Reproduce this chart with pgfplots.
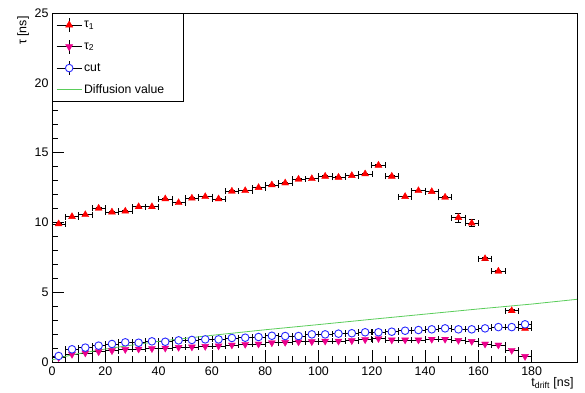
\documentclass[border=0pt]{standalone}
\usepackage{pgfplots}
\pgfplotsset{compat=1.18}
\usepackage{fontspec}
\setmainfont{Liberation Sans}
\definecolor{rootgreen}{RGB}{90,205,90}
\definecolor{rootblue}{RGB}{40,40,255}
\begin{document}
\begin{tikzpicture}
\useasboundingbox (-52bp,-31bp) rectangle (533bp,362bp);
\begin{axis}[
  scale only axis, width=525bp, height=349bp,
  xmin=0, xmax=197, ymin=0, ymax=25,
  xtick={0,20,...,180}, minor x tick num=3,
  ytick={0,5,...,25}, minor y tick num=4,
  tick pos=left, tick align=inside,
  major tick length=12bp, minor tick length=6bp,
  tick style={black, line width=0.5bp},
  axis line style={black, line width=0.6bp},
  /pgf/number format/assume math mode=true,
  ticklabel style={font=\fontsize{12.5}{14}\selectfont},
  xticklabel style={yshift=-1bp},
  xlabel={t\textsubscript{drift} [ns]},
  ylabel={τ [ns]},
  label style={font=\fontsize{12.5}{14}\selectfont},
  xlabel style={at={(axis description cs:1,0)}, anchor=north east, yshift=-12bp},
  ylabel style={at={(axis description cs:-0.055,1)}, anchor=east},
  error bars/error bar style={black, line width=0.6bp},
  error bars/error mark options={black, mark size=3bp, rotate=90, line width=0.6bp},
  legend style={at={(0,1)}, anchor=north west, draw=black, line width=0.6bp,
    font=\fontsize{12.3}{14}\selectfont, row sep=6.9bp, inner xsep=4bp, inner ysep=4.5bp,
    fill=white},
  legend cell align=left,
]
% legend entries
\addlegendimage{legend image code/.code={
  \draw[black, line width=0.6bp] (0bp,0bp)--(25bp,0bp);
  \draw[black, line width=0.6bp] (12.5bp,-7bp)--(12.5bp,7bp);
  \draw[red, fill=red, only marks, mark=triangle*, mark size=4bp] plot coordinates {(12.5bp,0bp)};}}
\addlegendentry{τ\textsubscript{1}}
\addlegendimage{legend image code/.code={
  \draw[black, line width=0.6bp] (0bp,0bp)--(25bp,0bp);
  \draw[black, line width=0.6bp] (12.5bp,-7bp)--(12.5bp,7bp);
  \draw[magenta, fill=magenta, only marks, mark=triangle*, mark size=4bp, mark options={rotate=180}] plot coordinates {(12.5bp,0bp)};}}
\addlegendentry{τ\textsubscript{2}}
\addlegendimage{legend image code/.code={
  \draw[black, line width=0.6bp] (0bp,0bp)--(25bp,0bp);
  \draw[black, line width=0.6bp] (12.5bp,-7bp)--(12.5bp,7bp);
  \draw[rootblue, fill=white, only marks, mark=*, mark size=3.8bp, line width=0.9bp] plot coordinates {(12.5bp,0bp)};}}
\addlegendentry{cut}
\addlegendimage{legend image code/.code={
  \draw[rootgreen, line width=0.8bp] (0bp,0bp)--(25bp,0bp);}}
\addlegendentry{\makebox[93bp][l]{Diffusion value}}

% tau1
\addplot[forget plot, only marks, mark=triangle*, mark size=4bp, mark options={red, fill=red},
  error bars/.cd, x dir=both, x fixed=2.5, y dir=both, y explicit]
table[x=x, y=y, y error=e] {
x y e
2.5 9.89 0.05
7.5 10.41 0.05
12.5 10.55 0.05
17.5 11.01 0.05
22.5 10.74 0.05
27.5 10.80 0.05
32.5 11.12 0.05
37.5 11.12 0.05
42.5 11.68 0.05
47.5 11.41 0.05
52.5 11.73 0.05
57.5 11.84 0.05
62.5 11.68 0.05
67.5 12.23 0.05
72.5 12.27 0.05
77.5 12.49 0.05
82.5 12.68 0.05
87.5 12.82 0.05
92.5 13.09 0.05
97.5 13.13 0.05
102.5 13.30 0.05
107.5 13.23 0.05
112.5 13.35 0.05
117.5 13.47 0.05
122.5 14.09 0.05
127.5 13.30 0.05
132.5 11.85 0.05
137.5 12.27 0.05
142.5 12.20 0.05
147.5 11.80 0.05
152.5 10.34 0.30
157.5 9.94 0.25
162.5 7.40 0.08
167.5 6.50 0.08
172.5 3.67 0.08
177.5 2.41 0.08
};

% tau2
\addplot[forget plot, only marks, mark=triangle*, mark size=4bp, mark options={magenta, fill=magenta, rotate=180},
  error bars/.cd, x dir=both, x fixed=2.5]
table[x=x, y=y] {
x y
2.5 0.32
7.5 0.55
12.5 0.65
17.5 0.74
22.5 0.81
27.5 0.90
32.5 0.93
37.5 0.96
42.5 1.00
47.5 1.05
52.5 1.08
57.5 1.12
62.5 1.15
67.5 1.22
72.5 1.27
77.5 1.29
82.5 1.38
87.5 1.41
92.5 1.45
97.5 1.46
102.5 1.50
107.5 1.50
112.5 1.53
117.5 1.60
122.5 1.68
127.5 1.58
132.5 1.58
137.5 1.58
142.5 1.63
147.5 1.63
152.5 1.55
157.5 1.48
162.5 1.29
167.5 1.22
172.5 0.84
177.5 0.40
};

% cut
\addplot[forget plot, only marks, mark=*, mark size=3.8bp, mark options={rootblue, fill=white, line width=0.9bp},
  error bars/.cd, x dir=both, x fixed=2.5]
table[x=x, y=y] {
x y
2.5 0.43
7.5 0.91
12.5 1.03
17.5 1.17
22.5 1.29
27.5 1.41
32.5 1.38
37.5 1.48
42.5 1.45
47.5 1.55
52.5 1.58
57.5 1.62
62.5 1.62
67.5 1.72
72.5 1.74
77.5 1.79
82.5 1.88
87.5 1.86
92.5 1.86
97.5 1.98
102.5 1.98
107.5 2.03
112.5 2.06
117.5 2.13
122.5 2.13
127.5 2.17
132.5 2.24
137.5 2.29
142.5 2.34
147.5 2.41
152.5 2.34
157.5 2.34
162.5 2.41
167.5 2.50
172.5 2.50
177.5 2.70
};

% diffusion
\addplot[forget plot, rootgreen, line width=0.8bp] coordinates {
(0,0.15) (5,0.40) (10,0.60) (20,0.93) (30,1.21) (40,1.48) (60,1.91) (80,2.31)
(100,2.68) (120,3.06) (140,3.43) (160,3.80) (180,4.15) (197,4.49)
};
\end{axis}
\end{tikzpicture}
\end{document}
